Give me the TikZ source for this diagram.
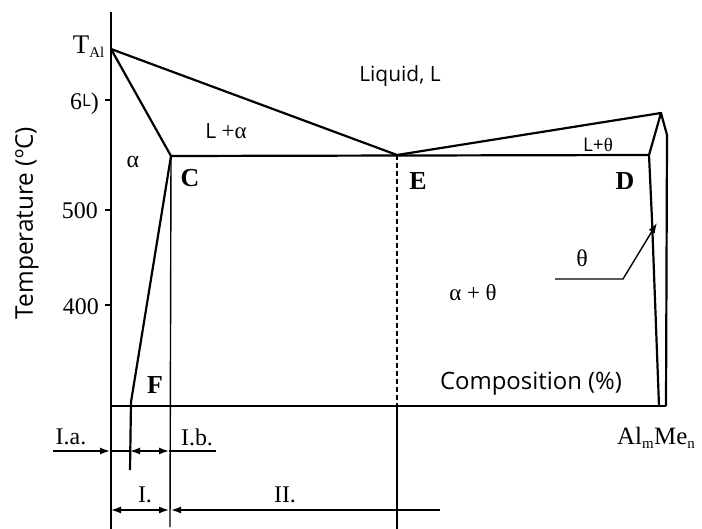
\documentclass[tikz,border=0pt]{standalone}
\usepackage{fontspec}
\setmainfont{Liberation Serif}
\newfontfamily\osans{Open Sans}
\usetikzlibrary{arrows.meta}
\begin{document}
\begin{tikzpicture}[x=1bp,y=-1bp,
  phase/.style={line width=2.2bp, line join=round},
  thinl/.style={line width=1.4bp},
  arr/.style={-{Latex[length=10bp,width=7bp]}, line width=1.4bp},
  darr/.style={{Latex[length=10bp,width=7bp]}-{Latex[length=10bp,width=7bp]}, line width=1.4bp},
  serl/.style={inner sep=0, font=\fontsize{24}{28}\selectfont},
  numl/.style={inner sep=0, font=\fontsize{24}{28}\selectfont},
  ptl/.style={inner sep=0, font=\fontsize{26}{30}\selectfont\bfseries},
  sanl/.style={inner sep=0, font=\osans\fontsize{21}{25}\selectfont},
]
\useasboundingbox (0,0) rectangle (702,529);
\fill[white] (0,0) rectangle (702,529);

% key points
\coordinate (axTop) at (111,12);
\coordinate (axBot) at (111,529);
\coordinate (TAl) at (111,49);
\coordinate (C) at (171,156);
\coordinate (E) at (397,155);
\coordinate (D) at (649,155);
\coordinate (P) at (661,113);
\coordinate (R1) at (667,135);
\coordinate (R2) at (666,406);
\coordinate (Dm) at (652,220);
\coordinate (Dbot) at (659,406);
\coordinate (Fk) at (131,402);
\coordinate (Fe) at (130,470);
\coordinate (Cbot) at (170,527);
\coordinate (Em) at (397,406);
\coordinate (Ebot) at (397,529);
\coordinate (Bl) at (111,406);

% axis and ticks
\draw[thinl] (axTop) -- (axBot);
\coordinate (t6) at (111,100); \coordinate (t6a) at (105,100);
\coordinate (t5) at (111,210); \coordinate (t5a) at (105,210);
\coordinate (t4) at (111,305); \coordinate (t4a) at (105,305);
\draw[thinl] (t6a) -- (t6) (t5a) -- (t5) (t4a) -- (t4);

% phase boundaries
\draw[phase] (TAl) -- (E) -- (P) -- (D);
\draw[phase] (TAl) -- (C) -- (D);
\draw[phase] (P) -- (R1) -- (R2);
\draw[phase] (D) -- (Dm) -- (Dbot);
\draw[phase] (C) -- (Fk) -- (Fe);
\draw[thinl] (Bl) -- (R2);
\draw[thinl] (C) -- (Cbot);
\draw[thinl, dash pattern=on 5bp off 3bp] (E) -- (Em);
\draw[thinl] (Em) -- (Ebot);

% region arrows
\coordinate (a0) at (53,451); \coordinate (a1) at (110,451);
\coordinate (a2) at (130,451); \coordinate (a3) at (169,451);
\coordinate (a4) at (216,451);
\draw[arr] (a0) -- (a1);
\draw[line width=1.4bp] (a1) -- (a2) (a3) -- (a4);
\draw[darr] (a2) -- (a3);
\coordinate (b1) at (111,510); \coordinate (b2) at (169,510);
\coordinate (b3) at (171,510); \coordinate (b4) at (440,510);
\draw[darr] (b1) -- (b2);
\draw[arr] (b4) -- (b3);

% theta pointer
\coordinate (th0) at (555,279); \coordinate (th1) at (623,279);
\coordinate (th2) at (657,223);
\draw[arr] (th0) -- (th1) -- (th2);

% labels
\node[numl, anchor=east] (lTAl) at (105,47) {\fontsize{27}{30}\selectfont T\textsubscript{\fontsize{15}{16}\selectfont Al}};
\node[numl, anchor=east] (l600) at (99,104) {6\raisebox{3bp}{\osans\fontsize{17}{20}\selectfont L})};
\node[numl, anchor=east] (l500) at (98,211) {500};
\node[numl, anchor=east] (l400) at (99,307) {400};
\node[inner sep=0, rotate=90, font=\osans\fontsize{24.5}{28}\selectfont] (ltemp) at (27,223) {Temperature (ºC)};
\node[sanl] (lliq) at (400,76) {Liquid, L};
\node[sanl] (lLa) at (226,131) {L \fontsize{23}{26}\rmfamily +α};
\node[inner sep=0, font=\osans\fontsize{19}{22}\selectfont] (lLt) at (598,145) {L+\rmfamily θ};
\node[serl] (lalpha) at (133,162) {α};
\node[serl] (ltheta) at (582,258) {θ};
\node[serl, font=\fontsize{23}{26}\selectfont] (lat) at (473,293) {α + θ};
\node[ptl] (lC) at (190,178) {C};
\node[ptl] (lE) at (418,181) {E};
\node[ptl] (lD) at (625,181) {D};
\node[ptl] (lF) at (155,385) {F};
\node[inner sep=0, font=\osans\fontsize{24}{28}\selectfont] (lcomp) at (531,384) {Composition (\%)};
\node[serl] (lIa) at (71,437) {I.a.};
\node[serl] (lIb) at (197,437) {I.b.};
\node[serl] (lI) at (145,495) {I.};
\node[serl] (lII) at (285,495) {II.};
\node[serl, anchor=west, font=\fontsize{25}{28}\selectfont] (lAlMe) at (617,438) {Al\textsubscript{\fontsize{15}{16}\selectfont m}Me\textsubscript{\fontsize{15}{16}\selectfont n}};
\end{tikzpicture}
\end{document}
